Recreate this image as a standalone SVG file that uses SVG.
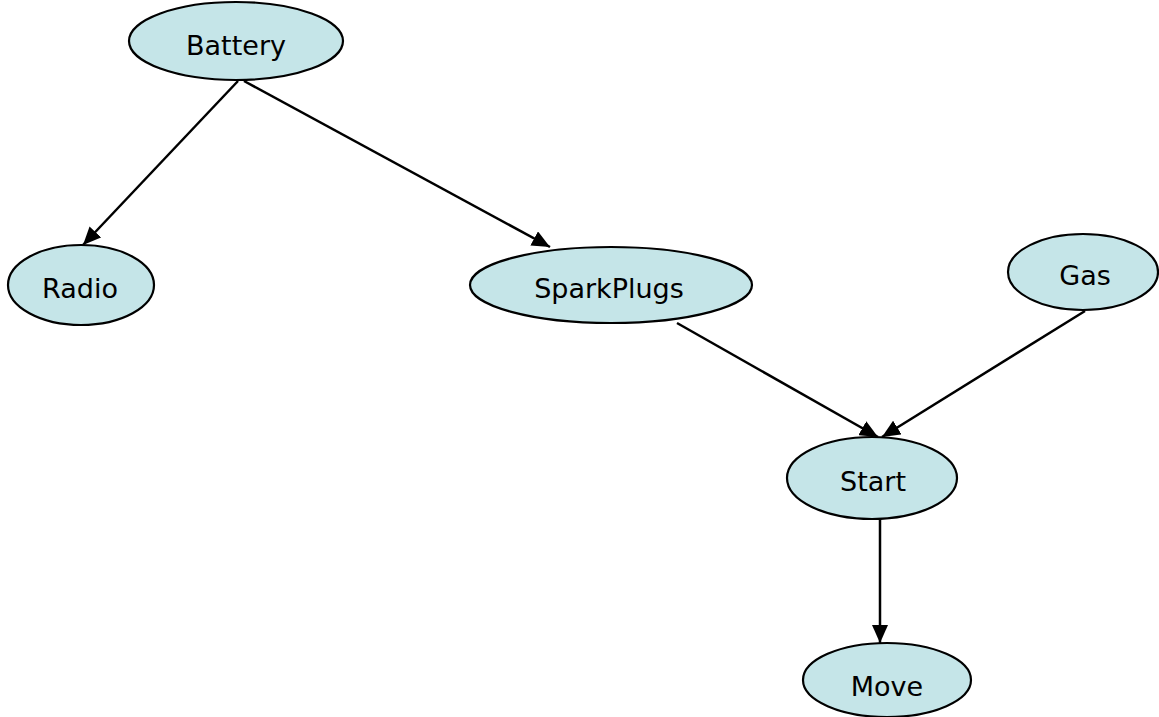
<svg xmlns="http://www.w3.org/2000/svg" width="1159" height="717" viewBox="0 0 1159 717">
<defs>
<style>
.node ellipse{fill:#c5e5e8;stroke:#000;stroke-width:2.2}
.node text{font-family:"DejaVu Sans","Noto Sans",sans-serif;font-size:27px;fill:#000;text-anchor:middle}
.edge{stroke:#000;stroke-width:2.5;fill:none;marker-end:url(#arr)}
</style>
<marker id="arr" markerUnits="userSpaceOnUse" markerWidth="18" markerHeight="16" refX="18" refY="8" orient="auto">
<path d="M0,0 L18,8 L0,16 Z" fill="#000"/>
</marker>
</defs>
<rect width="1159" height="717" fill="#fff"/>
<g id="connectors">
<line class="edge" x1="238" y1="81" x2="83" y2="245"/>
<line class="edge" x1="244" y1="81" x2="550" y2="247"/>
<line class="edge" x1="677" y1="323" x2="878" y2="437"/>
<line class="edge" x1="1085" y1="311" x2="882" y2="437"/>
<line class="edge" x1="880" y1="518" x2="880" y2="643"/>
</g>
<g id="battery" class="node"><ellipse cx="236" cy="41" rx="107" ry="39"/><text x="236" y="55">Battery</text></g>
<g id="radio" class="node"><ellipse cx="81" cy="285" rx="73" ry="40"/><text x="80" y="298">Radio</text></g>
<g id="sparkplugs" class="node"><ellipse cx="611" cy="285" rx="141" ry="38"/><text x="609" y="298">SparkPlugs</text></g>
<g id="gas" class="node"><ellipse cx="1083" cy="272" rx="75" ry="38"/><text x="1085" y="285">Gas</text></g>
<g id="start" class="node"><ellipse cx="872" cy="478" rx="85" ry="41"/><text x="873" y="491">Start</text></g>
<g id="move" class="node"><ellipse cx="887" cy="680" rx="84" ry="37"/><text x="887" y="696">Move</text></g>
</svg>
